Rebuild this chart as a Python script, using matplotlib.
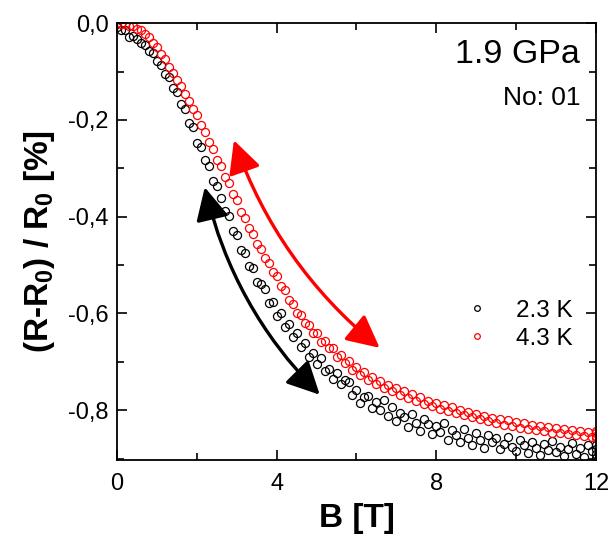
import matplotlib
matplotlib.use("Agg")
import matplotlib.pyplot as plt
from matplotlib.ticker import MultipleLocator, FuncFormatter

plt.rcParams["font.family"] = ["Liberation Sans", "DejaVu Sans"]
plt.rcParams["mathtext.fontset"] = "custom"
plt.rcParams["mathtext.bf"] = "Liberation Sans:bold"
plt.rcParams["mathtext.rm"] = "Liberation Sans"

# magnetic field [T]
field = [
    0.0, 0.1, 0.2, 0.3, 0.4, 0.5, 0.6, 0.7, 0.8, 0.9,
    1.0, 1.1, 1.2, 1.3, 1.4, 1.5, 1.6, 1.7, 1.8, 1.9,
    2.0, 2.1, 2.2, 2.3, 2.4, 2.5, 2.6, 2.7, 2.8, 2.9,
    3.0, 3.1, 3.2, 3.3, 3.4, 3.5, 3.6, 3.7, 3.8, 3.9,
    4.0, 4.1, 4.2, 4.3, 4.4, 4.5, 4.6, 4.7, 4.8, 4.9,
    5.0, 5.1, 5.2, 5.3, 5.4, 5.5, 5.6, 5.7, 5.8, 5.9,
    6.0, 6.1, 6.2, 6.3, 6.4, 6.5, 6.6, 6.7, 6.8, 6.9,
    7.0, 7.1, 7.2, 7.3, 7.4, 7.5, 7.6, 7.7, 7.8, 7.9,
    8.0, 8.1, 8.2, 8.3, 8.4, 8.5, 8.6, 8.7, 8.8, 8.9,
    9.0, 9.1, 9.2, 9.3, 9.4, 9.5, 9.6, 9.7, 9.8, 9.9,
    10.0, 10.1, 10.2, 10.3, 10.4, 10.5, 10.6, 10.7, 10.8, 10.9,
    11.0, 11.1, 11.2, 11.3, 11.4, 11.5, 11.6, 11.7, 11.8, 11.9,
    12.0, 12.0, 12.0, 12.0,
]

# (R-R0)/R0 [%] at 4.3 K
mr_43K = [
    -0.000, -0.002, -0.001, -0.005, -0.006, -0.012, -0.015, -0.023, -0.029, -0.040,
    -0.049, -0.063, -0.074, -0.090, -0.102, -0.118, -0.130, -0.147, -0.160, -0.178,
    -0.190, -0.210, -0.224, -0.245, -0.260, -0.283, -0.295, -0.318, -0.331, -0.354,
    -0.366, -0.390, -0.402, -0.424, -0.435, -0.456, -0.466, -0.486, -0.496, -0.515,
    -0.523, -0.543, -0.551, -0.573, -0.580, -0.598, -0.603, -0.619, -0.623, -0.640,
    -0.641, -0.658, -0.657, -0.672, -0.671, -0.689, -0.686, -0.703, -0.699, -0.716,
    -0.711, -0.727, -0.721, -0.737, -0.731, -0.745, -0.739, -0.753, -0.747, -0.761,
    -0.755, -0.768, -0.760, -0.775, -0.767, -0.781, -0.773, -0.787, -0.780, -0.792,
    -0.785, -0.797, -0.790, -0.802, -0.794, -0.806, -0.799, -0.810, -0.803, -0.814,
    -0.807, -0.819, -0.811, -0.822, -0.815, -0.826, -0.818, -0.830, -0.821, -0.833,
    -0.824, -0.836, -0.827, -0.838, -0.830, -0.841, -0.832, -0.843, -0.835, -0.846,
    -0.837, -0.848, -0.839, -0.850, -0.841, -0.852, -0.843, -0.853, -0.845, -0.855,
    -0.848, -0.842, -0.853, -0.857,
]

# (R-R0)/R0 [%] at 2.3 K
mr_23K = [
    -0.008, -0.014, -0.013, -0.028, -0.026, -0.033, -0.041, -0.045, -0.058, -0.062,
    -0.078, -0.086, -0.104, -0.112, -0.133, -0.142, -0.168, -0.178, -0.206, -0.214,
    -0.247, -0.255, -0.283, -0.296, -0.326, -0.336, -0.361, -0.388, -0.399, -0.430,
    -0.437, -0.468, -0.474, -0.501, -0.506, -0.535, -0.540, -0.549, -0.578, -0.576,
    -0.605, -0.600, -0.628, -0.622, -0.648, -0.641, -0.670, -0.662, -0.690, -0.682,
    -0.704, -0.693, -0.718, -0.714, -0.735, -0.722, -0.746, -0.737, -0.742, -0.768,
    -0.758, -0.785, -0.772, -0.770, -0.795, -0.782, -0.800, -0.779, -0.812, -0.794,
    -0.823, -0.806, -0.814, -0.835, -0.807, -0.826, -0.842, -0.818, -0.829, -0.850,
    -0.833, -0.845, -0.826, -0.861, -0.840, -0.852, -0.866, -0.838, -0.857, -0.871,
    -0.848, -0.862, -0.878, -0.851, -0.866, -0.858, -0.880, -0.869, -0.855, -0.875,
    -0.884, -0.862, -0.871, -0.889, -0.866, -0.878, -0.893, -0.870, -0.882, -0.864,
    -0.887, -0.876, -0.895, -0.880, -0.868, -0.890, -0.879, -0.897, -0.872, -0.885,
    -0.880, -0.872, -0.891, -0.899,
]

# sweep arrows: (B, value) of the two heads
arrow_43K = [(2.93, -0.242), (6.58, -0.671)]
arrow_23K = [(2.20, -0.339), (5.08, -0.768)]

fig = plt.figure(figsize=(6.12, 5.4), dpi=100)
ax = fig.add_axes([0.191, 0.148, 0.783, 0.809])

ax.plot(field, mr_23K, "o", mfc="none", mec="black", ms=5.8, mew=0.9, label="2.3 K")
ax.plot(field, mr_43K, "o", mfc="none", mec="red", ms=5.8, mew=0.9, label="4.3 K")

for (p1, p2), col in [(arrow_43K, "red"), (arrow_23K, "black")]:
    ax.annotate("", xy=p2, xytext=p1,
                arrowprops=dict(arrowstyle="<|-|>,head_length=1.0,head_width=0.5",
                                connectionstyle="arc3,rad=0.14", color=col,
                                lw=2.4, mutation_scale=20, shrinkA=0, shrinkB=0))

ax.set_xlim(0, 12)
ax.set_ylim(-0.903, 0)
ax.xaxis.set_major_locator(MultipleLocator(4))
ax.xaxis.set_minor_locator(MultipleLocator(2))
ax.yaxis.set_major_locator(MultipleLocator(0.2))
ax.yaxis.set_minor_locator(MultipleLocator(0.1))
ax.yaxis.set_major_formatter(FuncFormatter(
    lambda v, pos: ("%.1f" % (0.0 if abs(v) < 1e-9 else v)).replace(".", ",")))
ax.tick_params(which="both", direction="in", top=True, right=True,
               width=1.2, labelsize=17)
ax.tick_params(which="major", length=7)
ax.tick_params(which="minor", length=5)
ax.tick_params(axis="x", pad=9)
ax.tick_params(axis="y", pad=6)
for s in ax.spines.values():
    s.set_linewidth(1.3)

ax.set_xlabel("B [T]", fontsize=24, fontweight="bold", labelpad=6)
ax.set_ylabel(r"(R-$\mathbf{R_0}$) / $\mathbf{R_0}$ [%]", fontsize=24,
              fontweight="bold", labelpad=8)

ax.text(0.967, 0.908, "1.9 GPa", transform=ax.transAxes, ha="right",
        va="baseline", fontsize=24.5)
ax.text(0.967, 0.812, "No: 01", transform=ax.transAxes, ha="right",
        va="baseline", fontsize=19)

ax.legend(loc="center left", bbox_to_anchor=(0.70, 0.31), frameon=False,
          fontsize=17.5, markerscale=0.7, handletextpad=0.6,
          labelspacing=0.25, borderpad=0, borderaxespad=0, numpoints=1)

fig.savefig("out.png", dpi=100)
